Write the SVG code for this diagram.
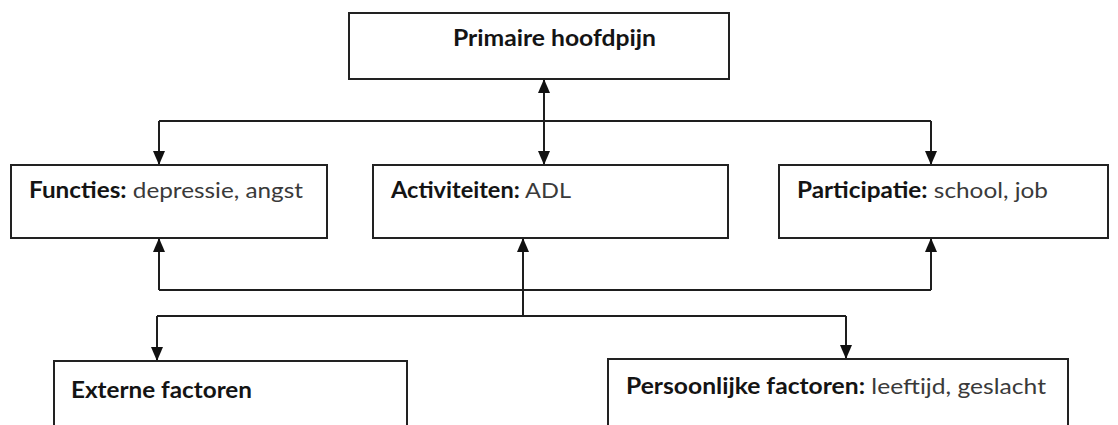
<svg xmlns="http://www.w3.org/2000/svg" width="1118" height="425" viewBox="0 0 1118 425">
  <style>
    .box { fill: #ffffff; stroke: #222222; stroke-width: 2; }
    .lbl { font-family: Lato, "Open Sans", "Liberation Sans", sans-serif; font-size: 22px; fill: #3a3a3a; }
    .b { font-weight: bold; fill: #141414; }
    .wire { fill: none; stroke: #1e1e1e; stroke-width: 2; }
    .arr { marker-end: url(#head); }
  </style>
  <defs>
    <marker id="head" viewBox="0 0 14 12" refX="13" refY="6" markerWidth="14" markerHeight="12" markerUnits="userSpaceOnUse" orient="auto-start-reverse">
      <path d="M0,0 L14,6 L0,12 Z" fill="#111111"/>
    </marker>
  </defs>
  <rect width="1118" height="425" fill="#ffffff"/>

  <g id="connectors">
    <!-- two-way link between the top node and the middle node -->
    <line class="wire" x1="544" y1="80" x2="544" y2="164" marker-start="url(#head)" marker-end="url(#head)"/>
    <!-- upper bus feeding the outer nodes -->
    <polyline class="wire" points="159,121 931,121"/>
    <line class="wire arr" x1="159" y1="121" x2="159" y2="164"/>
    <line class="wire arr" x1="931" y1="121" x2="931" y2="164"/>
    <!-- lower bus rising into the three middle-row nodes -->
    <polyline class="wire" points="159,290 931,290"/>
    <line class="wire arr" x1="159" y1="290" x2="159" y2="239"/>
    <line class="wire arr" x1="931" y1="290" x2="931" y2="239"/>
    <line class="wire arr" x1="523" y1="316" x2="523" y2="239"/>
    <!-- branch down to the context factors -->
    <polyline class="wire" points="157,316 846,316"/>
    <line class="wire arr" x1="157" y1="316" x2="157" y2="360"/>
    <line class="wire arr" x1="846" y1="316" x2="846" y2="358"/>
  </g>

  <g id="node-primaire">
    <rect class="box" x="349" y="13" width="380" height="66"/>
    <text class="lbl b" x="453" y="46" textLength="203" lengthAdjust="spacingAndGlyphs">Primaire hoofdpijn</text>
  </g>

  <g id="node-functies">
    <rect class="box" x="11" y="165" width="316" height="73"/>
    <text class="lbl" x="29" y="198" textLength="274" lengthAdjust="spacingAndGlyphs"><tspan class="b">Functies:</tspan> depressie, angst</text>
  </g>

  <g id="node-activiteiten">
    <rect class="box" x="373" y="165" width="355" height="73"/>
    <text class="lbl" x="391" y="198" textLength="180" lengthAdjust="spacingAndGlyphs"><tspan class="b">Activiteiten:</tspan> ADL</text>
  </g>

  <g id="node-participatie">
    <rect class="box" x="779" y="165" width="329" height="73"/>
    <text class="lbl" x="797" y="198" textLength="251" lengthAdjust="spacingAndGlyphs"><tspan class="b">Participatie:</tspan> school, job</text>
  </g>

  <g id="node-externe">
    <rect class="box" x="54" y="361" width="353" height="80"/>
    <text class="lbl b" x="71" y="398" textLength="181" lengthAdjust="spacingAndGlyphs">Externe factoren</text>
  </g>

  <g id="node-persoonlijk">
    <rect class="box" x="608" y="359" width="460" height="82"/>
    <text class="lbl" x="626" y="394" textLength="420" lengthAdjust="spacingAndGlyphs"><tspan class="b">Persoonlijke factoren:</tspan> leeftijd, geslacht</text>
  </g>
</svg>
